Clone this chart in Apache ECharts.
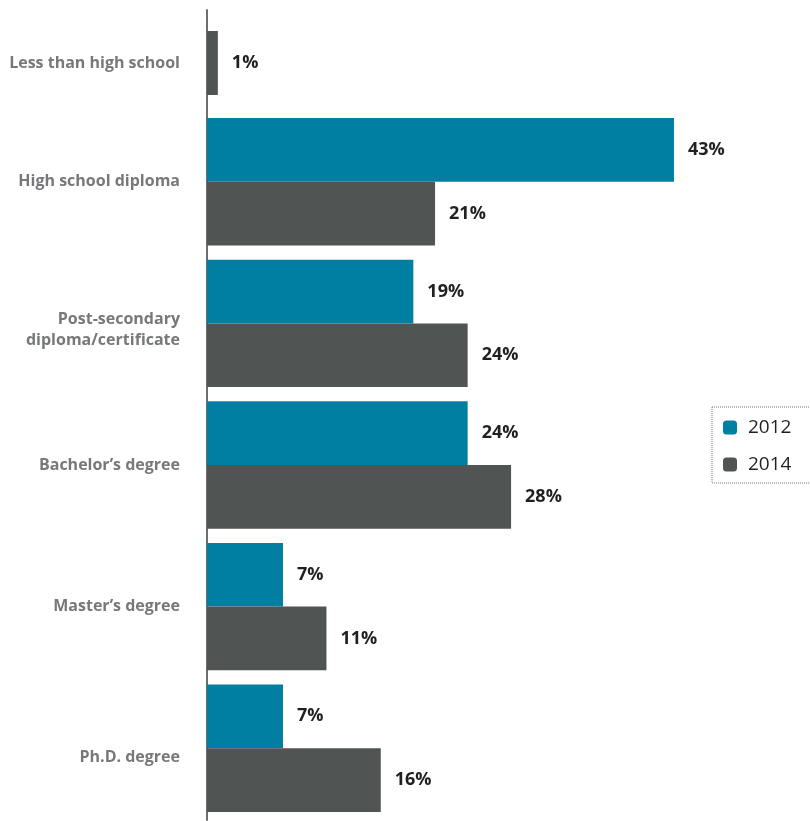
<!DOCTYPE html>
<html>
<head>
<meta charset="utf-8">
<script src="https://cdn.jsdelivr.net/npm/echarts@6/dist/echarts.min.js"></script>
<style>
  html, body { margin: 0; padding: 0; background: #fff; }
  #chart { width: 810px; height: 821px; }
</style>
</head>
<body>
<div id="chart"></div>
<script>
// Education level of respondents, 2012 vs 2014 (percent)
const categories = [
  'Less than high school',
  'High school diploma',
  'Post-secondary\ndiploma/certificate',
  'Bachelor\u2019s degree',
  'Master\u2019s degree',
  'Ph.D. degree'
];
const values2012 = [null, 43, 19, 24, 7, 7];
const values2014 = [1, 21, 24, 28, 11, 16];
const seriesNames = ['2012', '2014'];

const COLOR_2012 = '#007fa3';
const COLOR_2014 = '#505453';
const FONT = '"Open Sans", Lato, sans-serif';

const chart = echarts.init(document.getElementById('chart'), null, { renderer: 'canvas' });

const valueLabel = {
  show: true,
  position: 'right',
  distance: 14,
  formatter: p => p.value + '%',
  fontFamily: FONT,
  fontWeight: 'bold',
  fontSize: 18,
  color: '#231f20'
};

const labelText = { fontFamily: FONT, fontWeight: 'bold', fontSize: 16, lineHeight: 21, color: '#77787b' };

// a few category names sit a little below their band centre: a short spacer line pushes them down
const catLabel = {
  margin: 27,
  ...labelText,
  formatter: v => {
    if (v === 'Ph.D. degree') return '{sp18| }\n' + v;
    if (v.indexOf('\n') >= 0) return '{sp14| }\n' + v;
    return v;
  },
  rich: {
    sp18: { fontSize: 10, lineHeight: 18 },
    sp14: { fontSize: 10, lineHeight: 14 }
  }
};

const hiddenX = i => ({
  gridIndex: i, type: 'value', min: 0, max: 50, show: false
});

chart.setOption({
  animation: false,
  backgroundColor: '#fff',
  legend: {
    data: seriesNames,
    orient: 'vertical',
    left: 712,
    top: 407,
    icon: 'roundRect',
    itemWidth: 14,
    itemHeight: 14,
    itemGap: 18,
    padding: [11, 30, 9, 11],
    borderColor: '#7a7a7a',
    borderWidth: 1,
    borderType: 'dotted',
    textStyle: { fontFamily: FONT, fontSize: 19, color: '#231f20', padding: [0, 0, 0, 6] }
  },
  grid: [
    // full-height frame carrying the vertical axis line
    { left: 207, top: 10, width: 543, height: 810 },
    // first row (single bar)
    { left: 207, top: 10, width: 543, height: 106 },
    // remaining rows (paired bars)
    { left: 207, top: 111, width: 543, height: 708 }
  ],
  xAxis: [hiddenX(0), hiddenX(1), hiddenX(2)],
  yAxis: [
    {
      gridIndex: 0, type: 'value', min: 0, max: 1,
      axisLine: { show: true, lineStyle: { color: '#6d6e70', width: 2 } },
      axisTick: { show: false }, axisLabel: { show: false }, splitLine: { show: false }
    },
    {
      gridIndex: 1, type: 'category', inverse: true,
      data: categories.slice(0, 1),
      axisLine: { show: false }, axisTick: { show: false },
      axisLabel: catLabel
    },
    {
      gridIndex: 2, type: 'category', inverse: true,
      data: categories.slice(1),
      axisLine: { show: false }, axisTick: { show: false },
      axisLabel: catLabel
    }
  ],
  series: [
    {
      name: '2014', type: 'bar', xAxisIndex: 1, yAxisIndex: 1,
      data: values2014.slice(0, 1),
      barWidth: 64,
      itemStyle: { color: COLOR_2014 },
      label: valueLabel
    },
    {
      name: '2012', type: 'bar', xAxisIndex: 2, yAxisIndex: 2,
      data: values2012.slice(1),
      barGap: '0%', barCategoryGap: '10%',
      itemStyle: { color: COLOR_2012 },
      label: valueLabel
    },
    {
      name: '2014', type: 'bar', xAxisIndex: 2, yAxisIndex: 2,
      data: values2014.slice(1),
      barGap: '0%', barCategoryGap: '10%',
      itemStyle: { color: COLOR_2014 },
      label: valueLabel
    }
  ]
});
</script>
</body>
</html>
